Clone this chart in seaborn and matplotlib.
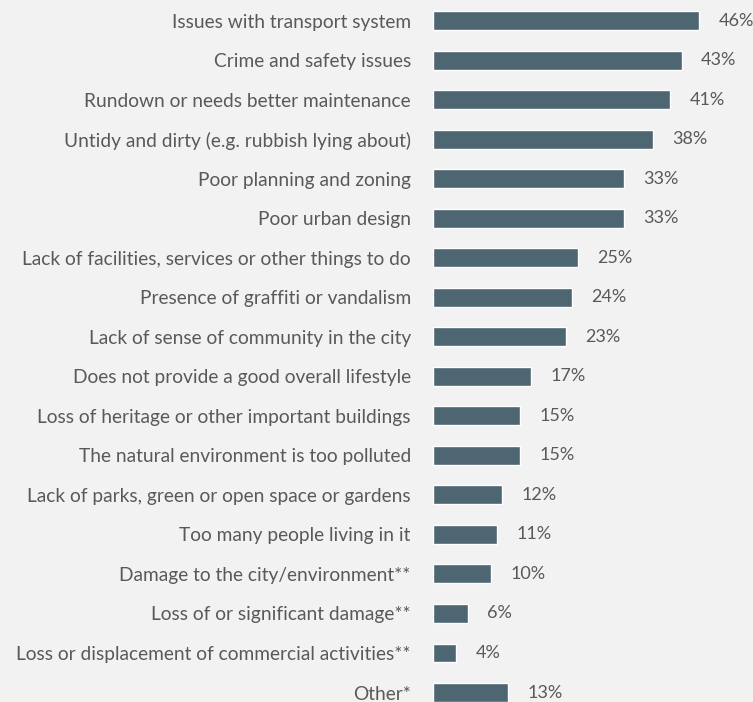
import matplotlib
matplotlib.use('Agg')
import matplotlib.pyplot as plt
import seaborn as sns
import pandas as pd

categories = [
    'Issues with transport system',
    'Crime and safety issues',
    'Rundown or needs better maintenance',
    'Untidy and dirty (e.g. rubbish lying about)',
    'Poor planning and zoning',
    'Poor urban design',
    'Lack of facilities, services or other things to do',
    'Presence of graffiti or vandalism',
    'Lack of sense of community in the city',
    'Does not provide a good overall lifestyle',
    'Loss of heritage or other important buildings',
    'The natural environment is too polluted',
    'Lack of parks, green or open space or gardens',
    'Too many people living in it',
    'Damage to the city/environment**',
    'Loss of or significant damage**',
    'Loss or displacement of commercial activities**',
    'Other*',
]
values = [46, 43, 41, 38, 33, 33, 25, 24, 23, 17, 15, 15, 12, 11, 10, 6, 4, 13]

bg = '#f2f2f2'
bar_color = '#4e6572'
text_color = '#595959'

sns.set_style('white')
plt.rcParams['font.family'] = ['Lato', 'DejaVu Sans']

df = pd.DataFrame({'category': categories, 'value': values})

fig = plt.figure(figsize=(7.53, 7.02), dpi=100, facecolor=bg)
ax = fig.add_axes([433 / 753, -10.3 / 702, 320 / 753, 711.5 / 702])
ax.set_facecolor(bg)

sns.barplot(data=df, x='value', y='category', orient='h', color=bar_color,
            width=0.48, saturation=1, ax=ax)

ax.set_xlim(0, 320 / 5.78)
ax.set_ylim(len(categories) - 0.5, -0.5)
for s in ax.spines.values():
    s.set_visible(False)
ax.set_xlabel('')
ax.set_ylabel('')
ax.set_xticks([])
ax.tick_params(axis='y', length=0, pad=16, labelsize=13.8, labelcolor=text_color)

ax.bar_label(ax.containers[0], labels=[f'{v}%' for v in values], padding=14,
             fontsize=13, color=text_color)

fig.savefig('out.png', dpi=100, facecolor=bg)
